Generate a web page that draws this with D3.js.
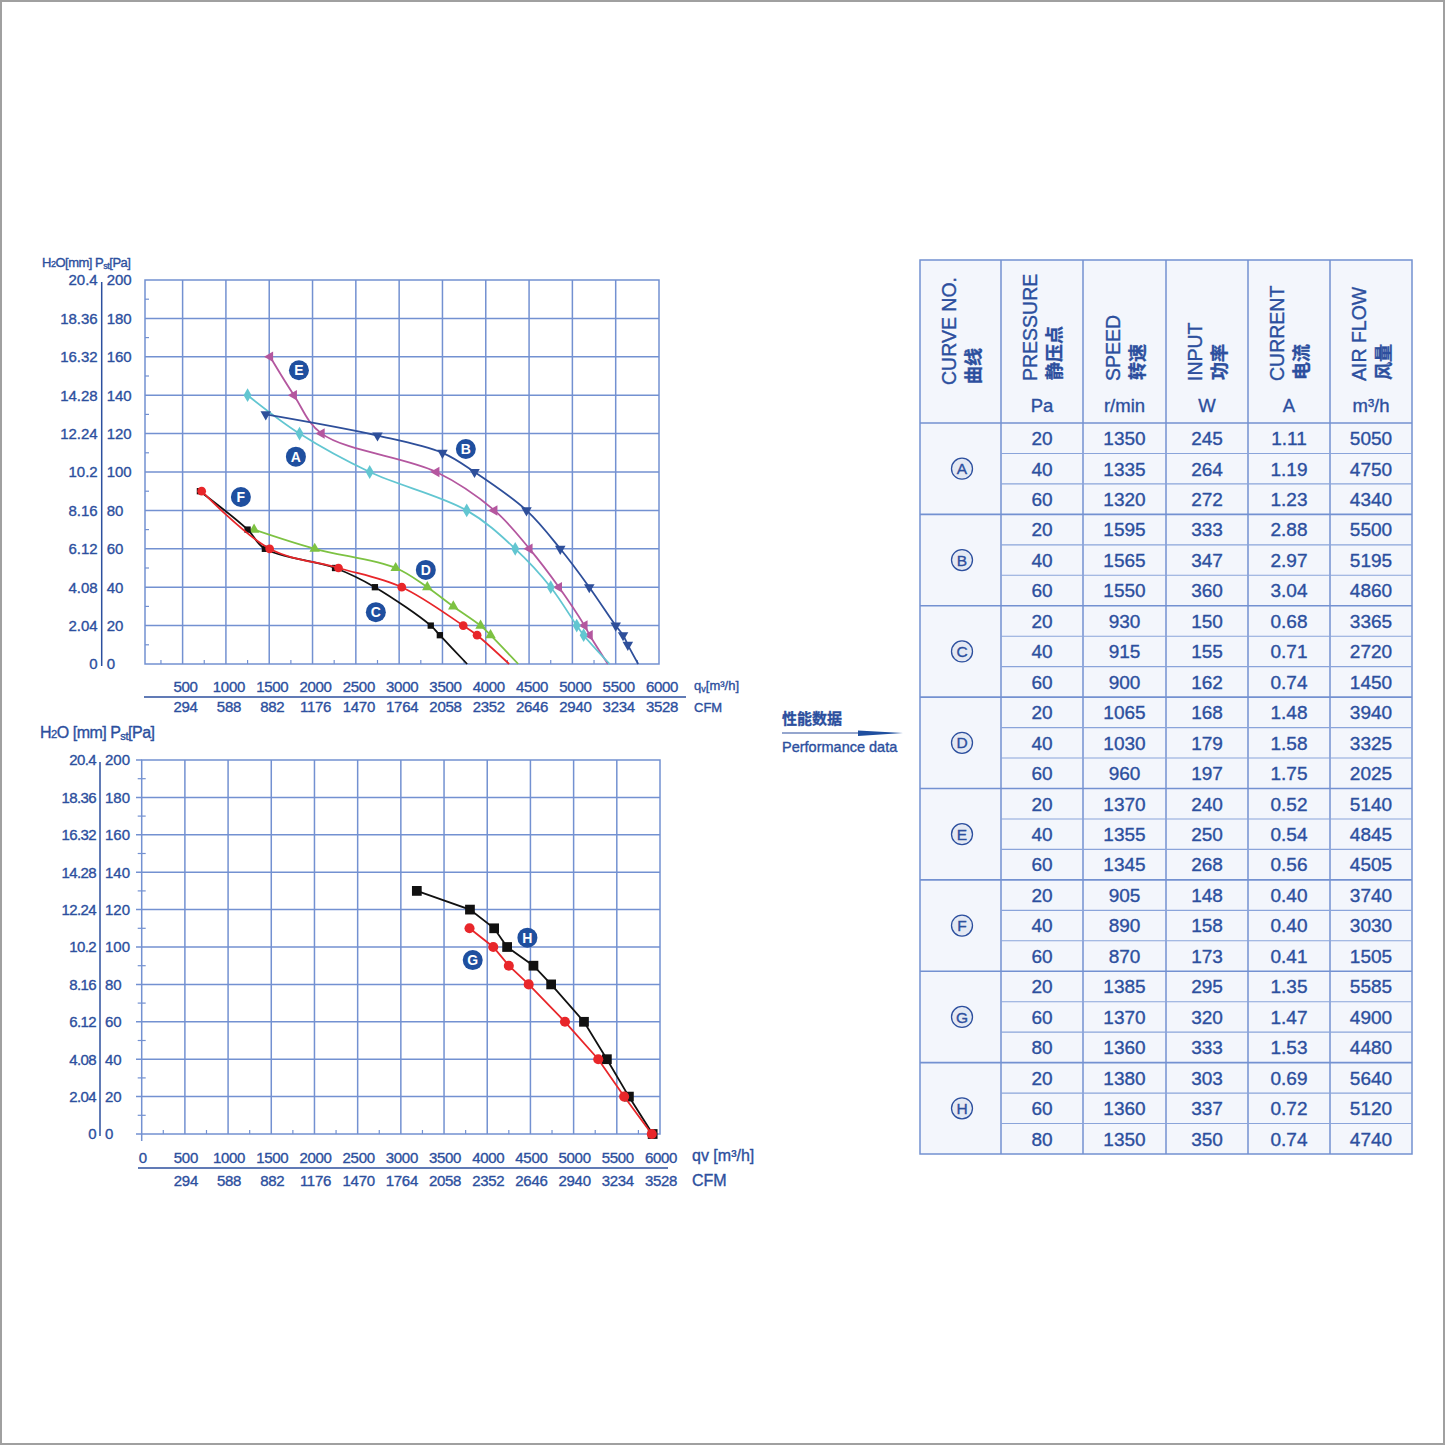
<!DOCTYPE html>
<html>
<head>
<meta charset="utf-8">
<script src="https://cdn.jsdelivr.net/npm/d3@7"></script>
<style>
body { margin: 0; background: #fff; }
text { font-family: "Liberation Sans", Arial, sans-serif; fill: #2c4f9e; stroke: #2c4f9e; stroke-width: 0.35px; }
.cjk { font-family: "Noto Sans CJK SC", sans-serif; }
.tag { fill: #fff; stroke: none; }
</style>
</head>
<body>
<svg id="vis_canvas" width="1445" height="1445"></svg>
<script>
// axis ticks
var flow_ticks = [500, 1000, 1500, 2000, 2500, 3000, 3500, 4000, 4500, 5000, 5500, 6000];
var cfm_ticks = [294, 588, 882, 1176, 1470, 1764, 2058, 2352, 2646, 2940, 3234, 3528];
var pa_ticks = [0, 20, 40, 60, 80, 100, 120, 140, 160, 180, 200];
var mm_ticks = ["0", "2.04", "4.08", "6.12", "8.16", "10.2", "12.24", "14.28", "16.32", "18.36", "20.4"];

// upper chart curves [m3/h, Pa]
var curve_a = [[1250,140],[1850,120],[2660,100],[3780,80],[4340,60],[4750,40],[5050,20],[5130,15],[5430,0]];
var curve_b = [[1460,130],[2750,119],[3500,110],[3870,100],[4470,80],[4860,60],[5195,40],[5500,20],[5585,15],[5640,10],[5760,0]];
var curve_e = [[1510,160],[1785,140],[2105,120],[3430,100],[4100,80],[4505,60],[4845,40],[5140,20],[5200,15],[5410,0]];
var curve_c = [[700,90],[1250,70],[1450,60],[2260,50],[2720,40],[3365,20],[3470,15],[3785,0]];
var curve_f = [[720,90],[1505,60],[2300,50],[3030,40],[3740,20],[3900,15],[4270,0]];
var curve_d = [[1325,70],[2025,60],[2960,50],[3325,40],[3625,30],[3940,20],[4055,15],[4375,0]];

// lower chart curves
var curve_h = [[3185,130],[3800,120],[4080,110],[4230,100],[4535,90],[4740,80],[5120,60],[5385,40],[5640,20],[5915,0]];
var curve_g = [[3795,110],[4070,100],[4250,90],[4480,80],[4900,60],[5285,40],[5585,20],[5905,0]];

// curve tags
var top_tags = ["E", "B", "A", "F", "D", "C"];
var top_tag_at = [[1843,153],[3770,112],[1808,108],[1173,87],[3308,49],[2731,27]];
var bottom_tags = ["H", "G"];
var bottom_tag_at = [[4465,105],[3832,93]];

// performance table
var curve_no = ["A", "B", "C", "D", "E", "F", "G", "H"];
var pressure_pa = [20,40,60, 20,40,60, 20,40,60, 20,40,60, 20,40,60, 20,40,60, 20,60,80, 20,60,80];
var speed_rpm = [1350,1335,1320, 1595,1565,1550, 930,915,900, 1065,1030,960, 1370,1355,1345, 905,890,870, 1385,1370,1360, 1380,1360,1350];
var input_w = [245,264,272, 333,347,360, 150,155,162, 168,179,197, 240,250,268, 148,158,173, 295,320,333, 303,337,350];
var current_amp = ["1.11","1.19","1.23", "2.88","2.97","3.04", "0.68","0.71","0.74", "1.48","1.58","1.75", "0.52","0.54","0.56", "0.40","0.40","0.41", "1.35","1.47","1.53", "0.69","0.72","0.74"];
var air_flow = [5050,4750,4340, 5500,5195,4860, 3365,2720,1450, 3940,3325,2025, 5140,4845,4505, 3740,3030,1505, 5585,4900,4480, 5640,5120,4740];
var header_en = ["CURVE NO.", "PRESSURE", "SPEED", "INPUT", "CURRENT", "AIR FLOW"];
var header_cn = ["曲线", "静压点", "转速", "功率", "电流", "风量"];
var header_unit = ["", "Pa", "r/min", "W", "A", "m³/h"];

var BLUE = "#2c4f9e";
var GRID = "#7391d1";

var svg = d3.select("#vis_canvas");
svg.append("rect").attr("x", 1).attr("y", 1).attr("width", 1443).attr("height", 1443)
    .attr("fill", "#fff").attr("stroke", "#a0a0a0").attr("stroke-width", 2);

function drawChart(opt) {
    var x = d3.scaleLinear().domain([0, 6000]).range(opt.xr);
    var y = d3.scaleLinear().domain([0, 200]).range(opt.yr);
    var g = svg.append("g");
    var left = opt.left;

    // grid
    g.selectAll(".vg").data(flow_ticks.slice(0, -1)).enter().append("line")
        .attr("x1", d => x(d)).attr("x2", d => x(d))
        .attr("y1", y(0)).attr("y2", y(200))
        .attr("stroke", GRID).attr("stroke-width", 1.5);
    g.selectAll(".hg").data(pa_ticks.slice(1, -1)).enter().append("line")
        .attr("x1", opt.gridStart).attr("x2", x(6000))
        .attr("y1", d => y(d)).attr("y2", d => y(d))
        .attr("stroke", GRID).attr("stroke-width", 1.5);
    g.append("rect").attr("x", left).attr("y", y(200))
        .attr("width", x(6000) - left).attr("height", y(0) - y(200))
        .attr("fill", "none").attr("stroke", GRID).attr("stroke-width", 1.5);
    if (opt.lower) {
        g.selectAll(".ext").data([0, 200]).enter().append("line")
            .attr("x1", opt.gridStart).attr("x2", left)
            .attr("y1", d => y(d)).attr("y2", d => y(d))
            .attr("stroke", GRID).attr("stroke-width", 1.5);
        g.append("line").attr("x1", left).attr("x2", left)
            .attr("y1", y(0)).attr("y2", y(0) + 7)
            .attr("stroke", GRID).attr("stroke-width", 1.5);
    }

    // minor ticks
    var minorY = d3.range(10, 200, 20);
    g.selectAll(".my").data(minorY).enter().append("line")
        .attr("x1", opt.lower ? left - 4 : left).attr("x2", left + 4)
        .attr("y1", d => y(d)).attr("y2", d => y(d))
        .attr("stroke", GRID).attr("stroke-width", 1.2);
    var minorX = d3.range(250, 6000, 500);
    g.selectAll(".mx").data(minorX).enter().append("line")
        .attr("x1", d => x(d)).attr("x2", d => x(d))
        .attr("y1", y(0)).attr("y2", y(0) - 4)
        .attr("stroke", GRID).attr("stroke-width", 1.2);

    // left double scale
    g.append("line").attr("x1", opt.axisX).attr("x2", opt.axisX)
        .attr("y1", y(200) + 2).attr("y2", y(0) + 2)
        .attr("stroke", BLUE).attr("stroke-width", 1.5);
    g.selectAll(".mm").data(mm_ticks).enter().append("text")
        .attr("x", opt.axisX - 4).attr("y", (d, i) => y(pa_ticks[i]))
        .attr("dy", "0.36em").attr("text-anchor", "end")
        .attr("font-size", opt.tickFont).attr("letter-spacing", opt.lower ? "-0.6" : "0").text(d => d);
    g.selectAll(".pa").data(pa_ticks).enter().append("text")
        .attr("x", opt.axisX + 5).attr("y", d => y(d))
        .attr("dy", "0.36em").attr("font-size", opt.tickFont).text(d => d);

    var hd = g.append("text").attr("x", opt.headX).attr("y", opt.headY)
        .attr("font-size", opt.headFont).attr("letter-spacing", "-0.5");
    hd.append("tspan").text("H");
    hd.append("tspan").attr("font-size", opt.headFont * 0.7).text("2");
    hd.append("tspan").text(opt.lower ? "O [mm]  P" : "O[mm]  P");
    hd.append("tspan").attr("font-size", opt.headFont * 0.7).attr("dy", 2).text("st");
    hd.append("tspan").attr("dy", -2).text("[Pa]");

    // flow axes under the chart
    g.append("line").attr("x1", opt.baseX1).attr("x2", opt.baseX2)
        .attr("y1", opt.baseY).attr("y2", opt.baseY)
        .attr("stroke", BLUE).attr("stroke-width", 1.5);
    var flows = opt.lower ? [0].concat(flow_ticks) : flow_ticks;
    g.selectAll(".fl").data(flows).enter().append("text")
        .attr("x", d => x(d) + opt.labelShift).attr("y", opt.baseY - 5)
        .attr("text-anchor", "middle").attr("font-size", opt.tickFont)
        .attr("letter-spacing", "-0.3").text(d => d);
    g.selectAll(".cfm").data(cfm_ticks).enter().append("text")
        .attr("x", (d, i) => x(flow_ticks[i]) + opt.labelShift).attr("y", opt.baseY + opt.cfmDy)
        .attr("text-anchor", "middle").attr("font-size", opt.tickFont)
        .attr("letter-spacing", "-0.3").text(d => d);
    var qv = g.append("text").attr("x", opt.unitX).attr("y", opt.baseY - 7)
        .attr("font-size", opt.unitFont);
    qv.append("tspan").text("q");
    qv.append("tspan").attr("font-size", opt.unitFont * (opt.lower ? 1 : 0.7)).attr("dy", opt.lower ? 0 : 2).text("v");
    qv.append("tspan").attr("dy", opt.lower ? 0 : -2).text(opt.lower ? " [m³/h]" : "[m³/h]");
    g.append("text").attr("x", opt.unitX).attr("y", opt.baseY + opt.cfmDy)
        .attr("font-size", opt.unitFont).text("CFM");

    return {x: x, y: y, g: g};
}

function drawCurve(ch, data, color, shape, size, rot, smooth, markEnd) {
    var line = d3.line().x(d => ch.x(d[0])).y(d => ch.y(d[1]))
        .curve(smooth ? d3.curveCatmullRom.alpha(0.5) : d3.curveLinear);
    ch.g.append("path").datum(data).attr("d", line)
        .attr("fill", "none").attr("stroke", color).attr("stroke-width", 1.8);
    var pts = markEnd ? data : data.filter(d => d[1] > 0);
    ch.g.selectAll(null).data(pts).enter().append("path")
        .attr("d", d3.symbol().type(shape).size(size))
        .attr("transform", d => "translate(" + ch.x(d[0]) + "," + ch.y(d[1]) + ") rotate(" + rot + ")")
        .attr("fill", color);
}

function drawTags(ch, letters, at) {
    var t = ch.g.selectAll(null).data(letters).enter().append("g")
        .attr("transform", (d, i) => "translate(" + ch.x(at[i][0]) + "," + ch.y(at[i][1]) + ")");
    t.append("circle").attr("r", 10).attr("fill", "#1f4f9f");
    t.append("text").attr("class", "tag").attr("text-anchor", "middle").attr("dy", "0.36em")
        .attr("font-size", 14).attr("font-weight", "bold").text(d => d);
}

var upperChart = drawChart({
    xr: [139.3, 659], yr: [664, 280], left: 145, gridStart: 145, lower: false,
    axisX: 101.7, tickFont: 15, headX: 42, headY: 267, headFont: 13,
    baseX1: 144, baseX2: 686, baseY: 697, cfmDy: 15, labelShift: 3,
    unitX: 694, unitFont: 13
});
drawCurve(upperChart, curve_e, "#b4579f", d3.symbolTriangle, 48, -90, true, false);
drawCurve(upperChart, curve_a, "#62c6d1", d3.symbolDiamond, 55, 0, true, false);
drawCurve(upperChart, curve_b, "#2e4f9a", d3.symbolTriangle, 48, 180, true, false);
drawCurve(upperChart, curve_d, "#7dc242", d3.symbolTriangle, 48, 0, true, false);
drawCurve(upperChart, curve_c, "#111111", d3.symbolSquare, 40, 0, true, false);
drawCurve(upperChart, curve_f, "#e8262a", d3.symbolCircle, 60, 0, true, false);
drawTags(upperChart, top_tags, top_tag_at);

var lowerChart = drawChart({
    xr: [141.7, 660], yr: [1134, 760], left: 141.7, gridStart: 136, lower: true,
    axisX: 100, tickFont: 15, headX: 40, headY: 738, headFont: 16,
    baseX1: 138, baseX2: 668, baseY: 1168, cfmDy: 18, labelShift: 1,
    unitX: 692, unitFont: 16
});
drawCurve(lowerChart, curve_h, "#111111", d3.symbolSquare, 95, 0, false, true);
drawCurve(lowerChart, curve_g, "#e8262a", d3.symbolCircle, 80, 0, false, true);
drawTags(lowerChart, bottom_tags, bottom_tag_at);

// middle caption and arrow
svg.append("text").attr("class", "cjk").attr("x", 782).attr("y", 724)
    .attr("font-size", 15).attr("font-weight", "bold").text("性能数据");
svg.append("line").attr("x1", 782).attr("x2", 880).attr("y1", 733).attr("y2", 733)
    .attr("stroke", BLUE).attr("stroke-width", 1.2);
svg.append("path").attr("d", "M858,730.5 L903,733 L858,736 Z").attr("fill", "#1f4f9f");
svg.append("text").attr("x", 782).attr("y", 752).attr("font-size", 14.5).text("Performance data");

// performance table
var colEdges = [920, 1001, 1083, 1166, 1248, 1330, 1412];
var row = d3.scaleLinear().domain([0, 24]).range([423, 1154]);
var tableTop = 260;
var tb = svg.append("g");
tb.append("rect").attr("x", colEdges[0]).attr("y", tableTop)
    .attr("width", colEdges[6] - colEdges[0]).attr("height", row(24) - tableTop)
    .attr("fill", "#f3f6fc").attr("stroke", GRID).attr("stroke-width", 1.5);
tb.selectAll(".cl").data(colEdges.slice(1, -1)).enter().append("line")
    .attr("x1", d => d).attr("x2", d => d).attr("y1", tableTop).attr("y2", row(24))
    .attr("stroke", GRID).attr("stroke-width", 1.5);
tb.selectAll(".rl").data(d3.range(1, 24).filter(i => i % 3 != 0)).enter().append("line")
    .attr("x1", colEdges[1]).attr("x2", colEdges[6]).attr("y1", d => row(d)).attr("y2", d => row(d))
    .attr("stroke", "#8aa4da").attr("stroke-width", 1.1);
tb.selectAll(".gl").data(d3.range(0, 24, 3)).enter().append("line")
    .attr("x1", colEdges[0]).attr("x2", colEdges[6]).attr("y1", d => row(d)).attr("y2", d => row(d))
    .attr("stroke", GRID).attr("stroke-width", 1.6);

// header
header_en.forEach(function(h, i) {
    var cx = (colEdges[i] + colEdges[i + 1]) / 2;
    var bottomY = i == 0 ? 385 : 381;
    tb.append("text").attr("transform", "translate(" + (cx - 12) + "," + bottomY + ") rotate(-90)")
        .attr("dy", "0.36em").attr("font-size", 19.5).text(h);
    tb.append("text").attr("class", "cjk")
        .attr("transform", "translate(" + (cx + 13) + "," + (bottomY - 1) + ") rotate(-90)")
        .attr("dy", "0.36em").attr("font-size", 18).attr("font-weight", "bold").text(header_cn[i]);
    if (header_unit[i]) {
        tb.append("text").attr("x", cx).attr("y", 405).attr("dy", "0.36em")
            .attr("text-anchor", "middle").attr("font-size", 18.5).text(header_unit[i]);
    }
});

// body
var columns = [pressure_pa, speed_rpm, input_w, current_amp, air_flow];
columns.forEach(function(col, c) {
    var cx = (colEdges[c + 1] + colEdges[c + 2]) / 2;
    tb.selectAll(null).data(col).enter().append("text")
        .attr("x", cx).attr("y", (d, i) => (row(i) + row(i + 1)) / 2)
        .attr("dy", "0.36em").attr("text-anchor", "middle").attr("font-size", 19).text(d => d);
});
var badge = tb.selectAll(null).data(curve_no).enter().append("g")
    .attr("transform", (d, i) => "translate(" + 962 + "," + (row(i * 3) + row(i * 3 + 3)) / 2 + ")");
badge.append("circle").attr("r", 10.5).attr("fill", "#e4e9f3").attr("stroke", BLUE).attr("stroke-width", 1.3);
badge.append("text").attr("text-anchor", "middle").attr("dy", "0.36em").attr("font-size", 15.5).text(d => d);
</script>
</body>
</html>
